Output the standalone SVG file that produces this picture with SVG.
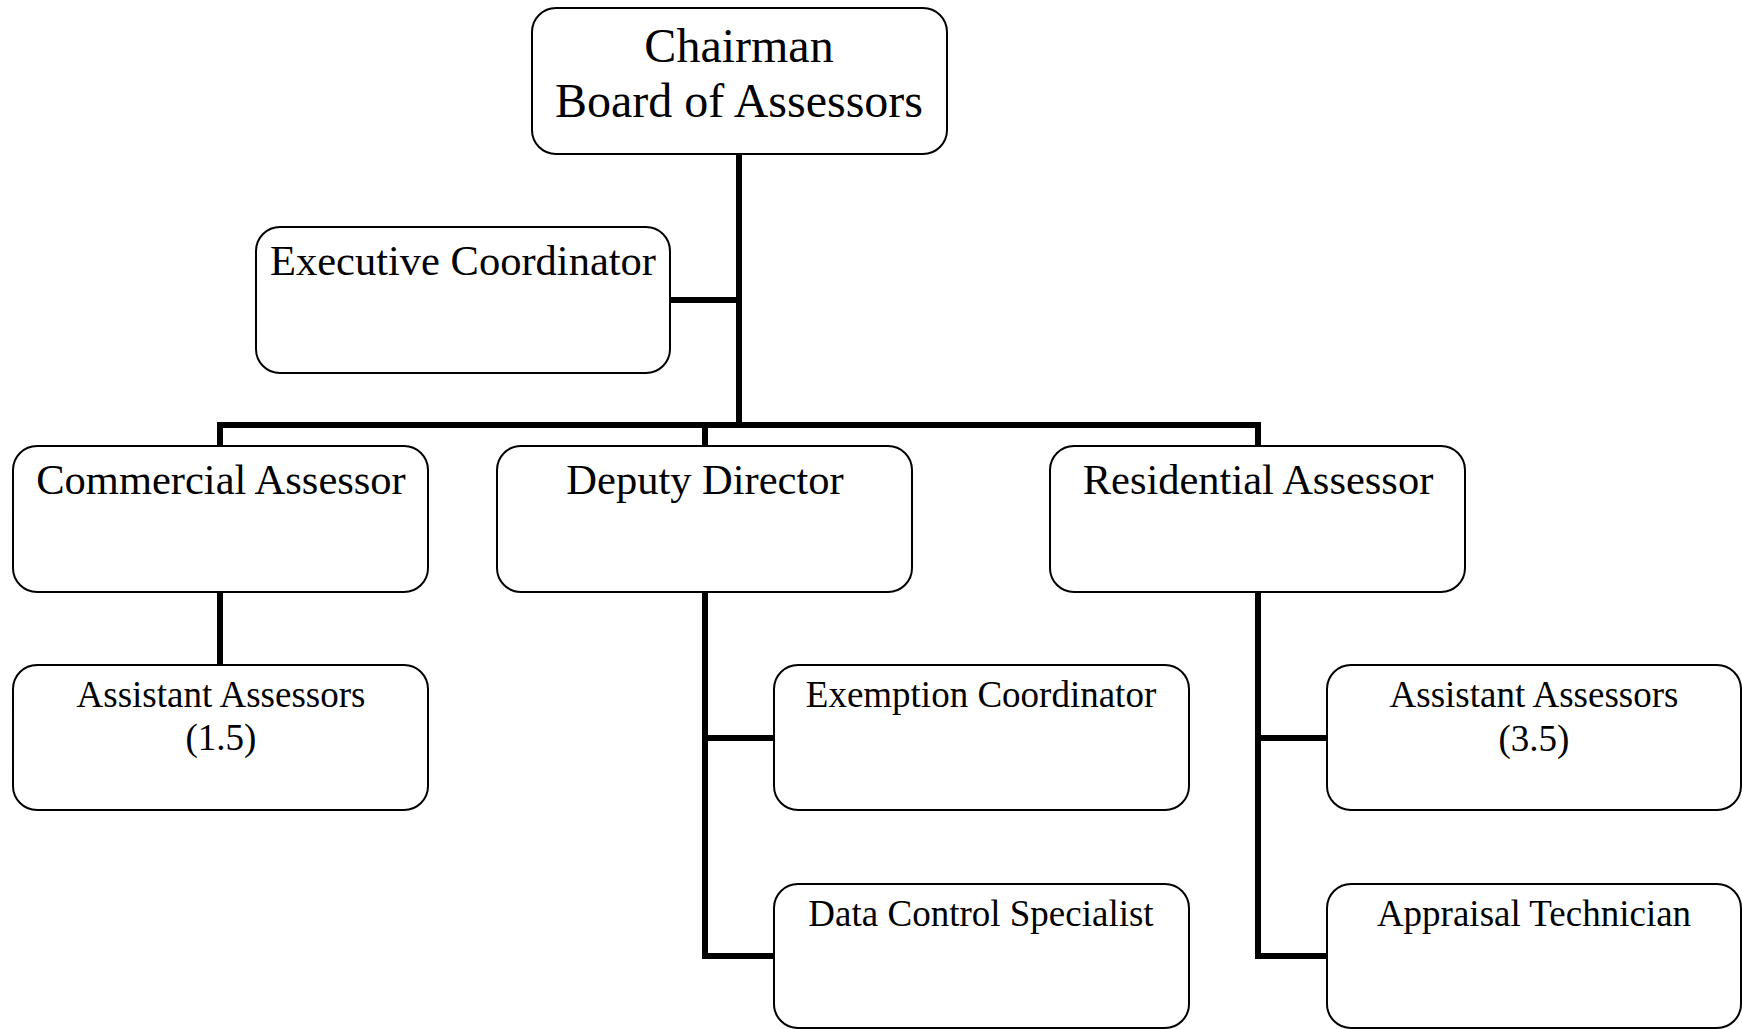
<svg xmlns="http://www.w3.org/2000/svg" width="1742" height="1029" viewBox="0 0 1742 1029">
<style>
.box{fill:#fff;stroke:#000;stroke-width:2}
.t1{font-family:"Liberation Serif","Times New Roman",serif;font-size:42.5px;text-anchor:middle;fill:#000}
.t0{font-family:"Liberation Serif","Times New Roman",serif;font-size:48px;text-anchor:middle;fill:#000}
.t2{font-family:"Liberation Serif","Times New Roman",serif;font-size:37px;text-anchor:middle;fill:#000}
.c{fill:none;stroke:#000;stroke-width:6;stroke-linecap:square}
</style>
<rect width="1742" height="1029" fill="#fff"/>
<g id="connectors">
<path class="c" d="M739,155 V425"/>
<path class="c" d="M670,300 H739"/>
<path class="c" d="M220,446 V425 H1258 V446"/>
<path class="c" d="M705,425 V446"/>
<path class="c" d="M220,592 V665"/>
<path class="c" d="M705,592 V956 H773"/>
<path class="c" d="M705,738 H774"/>
<path class="c" d="M1258,592 V956 H1328"/>
<path class="c" d="M1258,738 H1326"/>
</g>
<g id="chairman">
<rect class="box" x="532" y="8" width="415" height="146" rx="24"/>
<text class="t0" x="739" y="62">Chairman</text>
<text class="t0" x="739" y="117">Board of Assessors</text>
</g>
<g id="executive-coordinator">
<rect class="box" x="256" y="227" width="414" height="146" rx="24"/>
<text class="t1" x="463" y="275">Executive Coordinator</text>
</g>
<g id="commercial-assessor">
<rect class="box" x="13" y="446" width="415" height="146" rx="24"/>
<text class="t1" x="221" y="494">Commercial Assessor</text>
</g>
<g id="deputy-director">
<rect class="box" x="497" y="446" width="415" height="146" rx="24"/>
<text class="t1" x="705" y="494">Deputy Director</text>
</g>
<g id="residential-assessor">
<rect class="box" x="1050" y="446" width="415" height="146" rx="24"/>
<text class="t1" x="1258" y="494">Residential Assessor</text>
</g>
<g id="assistant-assessors-1">
<rect class="box" x="13" y="665" width="415" height="145" rx="24"/>
<text class="t2" x="221" y="707">Assistant Assessors</text>
<text class="t2" x="221" y="750">(1.5)</text>
</g>
<g id="exemption-coordinator">
<rect class="box" x="774" y="665" width="415" height="145" rx="24"/>
<text class="t2" x="981" y="707">Exemption Coordinator</text>
</g>
<g id="assistant-assessors-2">
<rect class="box" x="1327" y="665" width="414" height="145" rx="24"/>
<text class="t2" x="1534" y="707">Assistant Assessors</text>
<text class="t2" x="1534" y="751">(3.5)</text>
</g>
<g id="data-control-specialist">
<rect class="box" x="774" y="884" width="415" height="144" rx="24"/>
<text class="t2" x="981" y="926">Data Control Specialist</text>
</g>
<g id="appraisal-technician">
<rect class="box" x="1327" y="884" width="414" height="144" rx="24"/>
<text class="t2" x="1534" y="926">Appraisal Technician</text>
</g>
</svg>
